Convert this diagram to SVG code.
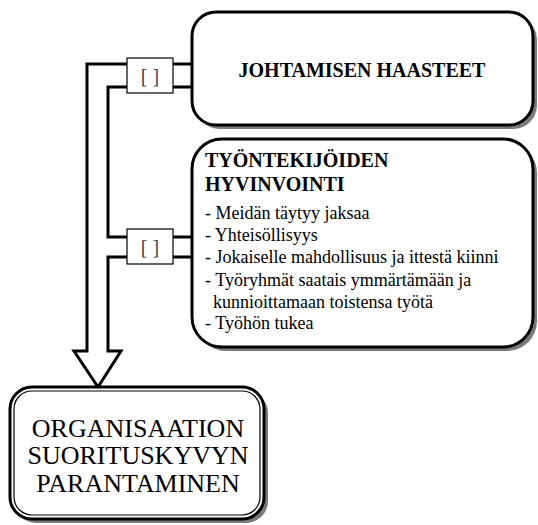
<svg xmlns="http://www.w3.org/2000/svg" width="538" height="525" viewBox="0 0 538 525">
  <style>
    .shadow { fill: #7a7a7a; }
    .box { fill: #ffffff; stroke: #000000; stroke-width: 3; }
    .inner { fill: none; stroke: #000000; stroke-width: 1.2; }
    .pipe { fill: none; stroke: #000000; stroke-width: 3; stroke-linejoin: miter; }
    .tag { fill: #ffffff; stroke: #000000; stroke-width: 1.2; }
    .tagtext { font-family: "Liberation Serif", "Times New Roman", serif; font-size: 20px; fill: #444444; text-anchor: middle; }
    .head { font-family: "Liberation Serif", "Times New Roman", serif; font-size: 20px; font-weight: bold; fill: #000000; }
    .item { font-family: "Liberation Serif", "Times New Roman", serif; font-size: 18px; fill: #000000; }
    .big { font-family: "Liberation Serif", "Times New Roman", serif; font-size: 26px; fill: #000000; text-anchor: middle; }
  </style>

  <rect width="538" height="525" fill="#ffffff"/>

  <!-- connectors: double-line pipe merging into a hollow arrow -->
  <g id="connectors">
    <path class="pipe" d="M192,64 H87 V351 H74 L98,387 L121,351 H108 V257 H192"/>
    <path class="pipe" d="M192,87 H108 V237 H192"/>
    <g id="tag1">
      <rect class="tag" x="127" y="58" width="46" height="35"/>
      <text class="tagtext" x="150" y="83">[ ]</text>
    </g>
    <g id="tag2">
      <rect class="tag" x="127" y="229" width="46" height="35"/>
      <text class="tagtext" x="150" y="254">[ ]</text>
    </g>
  </g>

  <g id="johtamisen-haasteet">
    <rect class="shadow" x="196" y="16" width="341" height="113" rx="24"/>
    <rect class="box" x="192" y="12" width="341" height="113" rx="24"/>
    <text class="head" x="362" y="77" text-anchor="middle">JOHTAMISEN HAASTEET</text>
  </g>

  <g id="tyontekijoiden-hyvinvointi">
    <rect class="shadow" x="196" y="143" width="341" height="208" rx="30"/>
    <rect class="box" x="192" y="139" width="341" height="208" rx="30"/>
    <text class="head" x="205" y="167">TYÖNTEKIJÖIDEN</text>
    <text class="head" x="205" y="191">HYVINVOINTI</text>
    <text class="item" x="205" y="219">- Meidän täytyy jaksaa</text>
    <text class="item" x="205" y="241">- Yhteisöllisyys</text>
    <text class="item" x="205" y="263">- Jokaiselle mahdollisuus ja ittestä kiinni</text>
    <text class="item" x="205" y="286">- Työryhmät saatais ymmärtämään ja</text>
    <text class="item" x="213" y="308">kunnioittamaan toistensa työtä</text>
    <text class="item" x="205" y="329">- Työhön tukea</text>
  </g>

  <g id="organisaation-suorituskyky">
    <rect class="shadow" x="14" y="391" width="254" height="132" rx="22"/>
    <rect class="box" x="10" y="387" width="254" height="132" rx="22" stroke-width="2.5"/>
    <rect class="inner" x="14" y="391" width="246" height="124" rx="18"/>
    <text class="big" x="138" y="437">ORGANISAATION</text>
    <text class="big" x="138" y="464">SUORITUSKYVYN</text>
    <text class="big" x="138" y="492">PARANTAMINEN</text>
  </g>
</svg>
